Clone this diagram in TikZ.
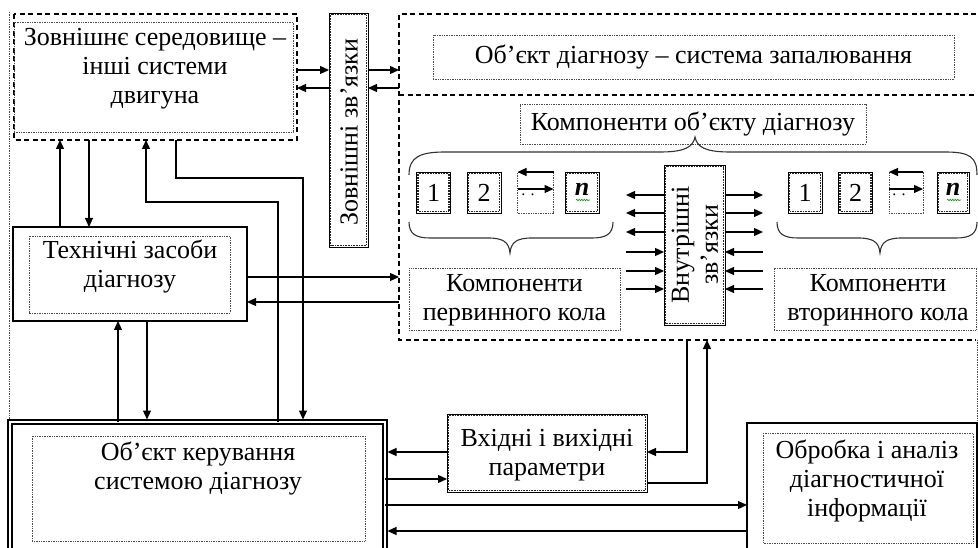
\documentclass[tikz,border=0pt]{standalone}
\usepackage{fontspec}
\setmainfont{Liberation Serif}
\usetikzlibrary{arrows.meta,decorations.pathmorphing}
\begin{document}
\begin{tikzpicture}[x=1pt,y=-1pt,
  every node/.style={inner sep=0pt, outer sep=0pt},
  txt/.style={font=\fontsize{26}{29}\selectfont, align=center},
  dotbox/.style={draw=black!70, line width=0.8pt, dash pattern=on 0.8pt off 0.9pt},
  dashbox/.style={line width=1.1pt, dash pattern=on 5pt off 3.5pt},
  heavybox/.style={draw, line width=0.9pt,
    path picture={\draw[black!85, line width=1.3pt, dash pattern=on 0.8pt off 0.8pt]
      ([shift={(1.6pt,-1.6pt)}]path picture bounding box.north west) rectangle
      ([shift={(-1.6pt,1.6pt)}]path picture bounding box.south east);}},
  solidbox/.style={draw, line width=1.3pt},
  arr/.style={-{Triangle[length=9pt,width=8pt]}, line width=1.3pt},
  brc/.style={line width=1.1pt, draw=black!80},
  sz/.style 2 args={minimum width=#1, minimum height=#2},
]
\clip (0,0) rectangle (978,548);
\fill[white] (0,0) rectangle (978,548);

% outer dotted frame
\draw[dotbox] (9,12) -- (9,548);
\draw[dotbox] (977,340) -- (977,423);

% external environment
\node[sz={283}{126}] (Aout) at (155.5,77) {};
\draw[dashbox] (Aout.north west) rectangle (Aout.south east);
\node[dotbox, sz={279}{110}] (A) at (153.5,77) {};
\node[txt] (At) at (155,69) {Зовнішнє середовище –\\інші системи\\двигуна};

% external links
\node[heavybox, sz={39}{234}] (B) at (348.5,130) {};
\node[txt, rotate=90] (Bt) at (349,132) {Зовнішні зв’язки};

% object region
\node[sz={577}{81}] (Cz) at (687.5,54.5) {};
\node[sz={577}{245}] (L) at (687.5,217.5) {};
\draw[dashbox] (Cz.north east) -- (Cz.north west) -- (L.south west) -- (L.south east);
\draw[dashbox] (Cz.south west) -- (Cz.south east);
\node[dotbox, sz={521}{44}, txt] (C) at (693.5,57) {Об’єкт діагнозу – система запалювання};
\node[dotbox, sz={346}{40}, txt] (K) at (693,124) {Компоненти об’єкту діагнозу};

% big brace
\draw[brc] (409,175) .. controls (409,157) and (420,152) .. (445,152) -- (660,152)
  .. controls (685,152) and (693,147) .. (695,137)
  .. controls (697,147) and (705,152) .. (730,152) -- (945,152)
  .. controls (970,152) and (977,157) .. (977,175);

% component boxes, left group
\node[heavybox, sz={34}{41}, txt] (l1) at (433.5,192.5) {1};
\node[heavybox, sz={34}{41}, txt] (l2) at (484,192.5) {2};
\node[dotbox, sz={36}{41}] (ld) at (535.5,192.5) {};
\node[heavybox, sz={34}{41}] (ln) at (582,192.5) {};
\node[font=\fontsize{16}{16}\selectfont] at (528,195) {. .};
\node[txt] at (582,189) {\textbf{\textit{n}}};
\draw[arr] (ld.north east) -- (ld.north west);
\draw[arr] (ld.west |- 0,189) -- (ld.east |- 0,189);
\draw[green!60!black, line width=0.6pt, decorate, decoration={snake, amplitude=0.7pt, segment length=2.5pt}] (576,200) -- (590,200);

% component boxes, right group
\node[heavybox, sz={34}{41}, txt] (r1) at (805,192.5) {1};
\node[heavybox, sz={34}{41}, txt] (r2) at (855.5,192.5) {2};
\node[dotbox, sz={34}{41}] (rd) at (906,192.5) {};
\node[heavybox, sz={32}{41}] (rn) at (953,192.5) {};
\node[font=\fontsize{16}{16}\selectfont] at (899,195) {. .};
\node[txt] at (953,189) {\textbf{\textit{n}}};
\draw[arr] (rd.north east) -- (rd.north west);
\draw[arr] (rd.west |- 0,189) -- (rd.east |- 0,189);
\draw[green!60!black, line width=0.6pt, decorate, decoration={snake, amplitude=0.7pt, segment length=2.5pt}] (947,200) -- (961,200);

% small braces
\draw[brc] (409,222) .. controls (409,234) and (416,238) .. (430,238) -- (488,238)
  .. controls (503,238) and (509,242) .. (510,253)
  .. controls (511,242) and (517,238) .. (532,238) -- (592,238)
  .. controls (606,238) and (613,234) .. (613,222);
\draw[brc] (777,222) .. controls (777,234) and (784,238) .. (798,238) -- (858,238)
  .. controls (873,238) and (879,242) .. (880,253)
  .. controls (881,242) and (887,238) .. (902,238) -- (956,238)
  .. controls (970,238) and (977,234) .. (977,222);

% primary / secondary components
\node[dotbox, sz={211}{62}] (P1) at (514.5,299) {};
\node[txt] at (514.5,300) {Компоненти\\первинного кола};
\node[dotbox, sz={202}{62}] (P2) at (875,299) {};
\node[txt] at (878,300) {Компоненти\\вторинного кола};

% internal links
\node[heavybox, sz={61}{160}] (V) at (694.5,245) {};
\node[txt, rotate=90] (Vt) at (695,245) {Внутрішні\\зв’язки};
\foreach \yy in {195,213,232}{
  \draw[arr] (V.west |- 0,\yy) -- (626,\yy);
  \draw[arr] (V.east |- 0,\yy) -- (763,\yy);
}
\foreach \yy in {252,271,289}{
  \draw[arr] (626,\yy) -- (V.west |- 0,\yy);
  \draw[arr] (763,\yy) -- (V.east |- 0,\yy);
}

% technical means
\node[solidbox, sz={234}{94}] (T) at (130,274) {};
\draw[dotbox] (29,236) rectangle (230,313);
\node[txt] (Tt) at (130,267) {Технічні засоби\\діагнозу};

% control object (double frame)
\node[draw, line width=1.8pt, double, double distance=1.6pt, sz={375}{140}] (M) at (197.5,492) {};
\draw[dotbox] (32,436) rectangle (365,541);
\node[txt] (Mt) at (198,468) {Об’єкт керування\\системою діагнозу};

% input / output parameters
\node[heavybox, sz={200}{78}] (P) at (547,453) {};
\node[txt] (Pt) at (547,455) {Вхідні і вихідні\\параметри};

% processing
\node[solidbox, sz={230}{140}] (O) at (862,493) {};
\draw[dotbox] (763,433) rectangle (973,543);
\node[txt] (Ot) at (867,481) {Обробка і аналіз\\діагностичної\\інформації};

% connectors: external links
\draw[arr] (Aout.east |- 0,70) -- (B.west |- 0,70);
\draw[arr] (B.west |- 0,88) -- (Aout.east |- 0,88);
\draw[arr] (B.east |- 0,70) -- (Cz.west |- 0,70);
\draw[arr] (Cz.west |- 0,88) -- (B.east |- 0,88);

% connectors: vertical
\draw[arr] (T.north -| 60,0) -- (Aout.south -| 60,0);
\draw[arr] (Aout.south -| 89,0) -- (T.north -| 89,0);
\draw[arr] (M.north -| 278,0) -- (278,202) -- (146,202) -- (Aout.south -| 146,0);
\draw[arr, shorten >=2.5pt] (Aout.south -| 176,0) -- (176,178) -- (303,178) -- (M.north -| 303,0);
\draw[arr] (M.north -| 118,0) -- (T.south -| 118,0);
\draw[arr, shorten >=2.5pt] (T.south -| 147,0) -- (M.north -| 147,0);

% connectors: technical means <-> object
\draw[arr] (T.east |- 0,277) -- (L.west |- 0,277);
\draw[arr] (L.west |- 0,302) -- (T.east |- 0,302);

% connectors: control object
\draw[arr, shorten >=2.5pt] (P.west |- 0,452) -- (M.east |- 0,452);
\draw[arr] (M.east |- 0,479) -- (P.west |- 0,479);
\draw[arr] (M.east |- 0,505) -- (O.west |- 0,505);
\draw[arr, shorten >=2.5pt] (O.west |- 0,531) -- (M.east |- 0,531);

% connectors: parameters <-> object
\draw[arr] (L.south -| 687,0) -- (687,452) -- (P.east |- 0,452);
\draw[arr] (P.east |- 0,483) -- (707,483) -- (L.south -| 707,0);
\end{tikzpicture}
\end{document}
